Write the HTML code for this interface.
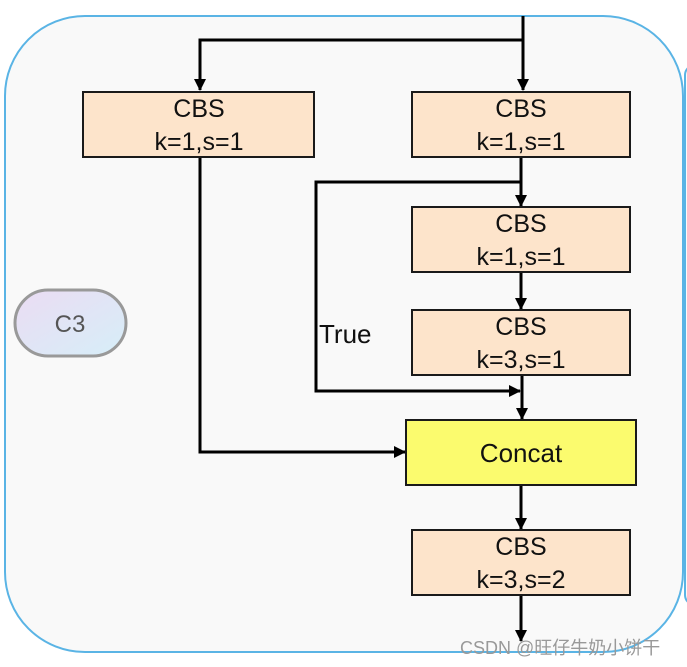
<!DOCTYPE html>
<html><head><meta charset="utf-8"><style>
html,body{margin:0;padding:0;background:#fff;width:687px;height:667px;overflow:hidden}
svg{display:block}
text{font-family:"Liberation Sans","Noto Sans CJK SC",sans-serif}
</style></head><body>
<svg width="687" height="667" viewBox="0 0 687 667" xmlns="http://www.w3.org/2000/svg">
<defs>
<marker id="a" markerWidth="12" markerHeight="12" refX="11" refY="6" orient="auto" markerUnits="userSpaceOnUse">
<path d="M0,0 L12,6 L0,12 z" fill="#000"/></marker>
<linearGradient id="g" x1="0" y1="0" x2="1" y2="1">
<stop offset="0" stop-color="#ebdcf3"/><stop offset="1" stop-color="#d6eef8"/></linearGradient>
</defs>
<rect x="685" y="65" width="80" height="540" rx="10" fill="#fafafa" stroke="#5ab4e5" stroke-width="2"/>
<rect x="5" y="16" width="678" height="636" rx="80" fill="#f9f9f9" stroke="#5ab4e5" stroke-width="2"/>
<rect x="15" y="290" width="111" height="66" rx="33" fill="url(#g)" stroke="#999" stroke-width="3"/>
<text x="70" y="332" font-size="24" fill="#555" text-anchor="middle">C3</text>
<g stroke="#000" stroke-width="3" fill="none">
<path d="M523,16 L523,90" marker-end="url(#a)"/>
<path d="M523,40 L200,40 L200,90" marker-end="url(#a)"/>
<path d="M200,157 L200,452 L405,452" marker-end="url(#a)"/>
<path d="M521,157 L521,206" marker-end="url(#a)"/>
<path d="M521,182 L316,182 L316,391 L520,391"  marker-end="url(#a)"/>
<path d="M521,272 L521,309" marker-end="url(#a)"/>
<path d="M522,375 L522,419" marker-end="url(#a)"/>
<path d="M521,486 L521,529" marker-end="url(#a)"/>
<path d="M521,596 L521,641" marker-end="url(#a)"/>
</g>
<g stroke="#1a1a1a" stroke-width="2" fill="#fde4cb">
<rect x="83" y="92" width="231" height="65"/>
<rect x="412" y="92" width="218" height="65"/>
<rect x="412" y="207" width="218" height="65"/>
<rect x="412" y="310" width="218" height="65"/>
<rect x="412" y="530" width="218" height="65"/>
<rect x="406" y="420" width="230" height="65" fill="#fbfb6e"/>
</g>
<g font-size="25" fill="#111" text-anchor="middle">
<text x="199" y="117">CBS</text><text x="199" y="150">k=1,s=1</text>
<text x="521" y="117">CBS</text><text x="521" y="150">k=1,s=1</text>
<text x="521" y="232">CBS</text><text x="521" y="265">k=1,s=1</text>
<text x="521" y="335">CBS</text><text x="521" y="368">k=3,s=1</text>
<text x="521" y="555">CBS</text><text x="521" y="588">k=3,s=2</text>
<text x="521" y="462" font-size="26">Concat</text>
</g>
<text x="319" y="343" font-size="26" fill="#111">True</text>
<text x="460" y="654" font-size="18" fill="#999">CSDN @旺仔牛奶小饼干</text>
</svg>
</body></html>
